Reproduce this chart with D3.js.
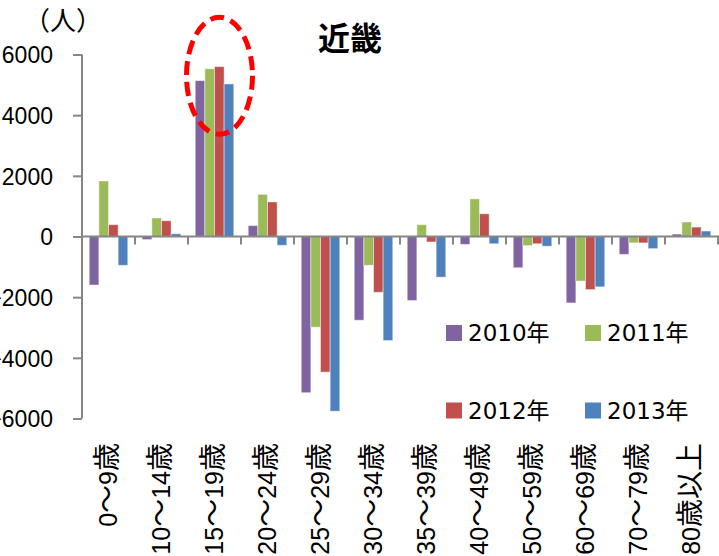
<!DOCTYPE html>
<html>
<head>
<meta charset="utf-8">
<script src="https://d3js.org/d3.v7.min.js"></script>
<style>
  body { margin: 0; background: #fff; }
  svg { display: block; }
  text { font-family: "Liberation Sans", "Noto Sans CJK JP", sans-serif; fill: #000; }
</style>
</head>
<body>
<svg width="719" height="556"></svg>
<script>
const categories = ["0～9歳", "10～14歳", "15～19歳", "20～24歳", "25～29歳", "30～34歳",
  "35～39歳", "40～49歳", "50～59歳", "60～69歳", "70～79歳", "80歳以上"];
const years = ["2010年", "2011年", "2012年", "2013年"];
const values2010 = [-1600, -100, 5140, 360, -5150, -2760, -2110, -260, -1030, -2190, -590, 80];
const values2011 = [1830, 610, 5530, 1390, -2990, -950, 390, 1240, -300, -1470, -210, 480];
const values2012 = [390, 520, 5600, 1140, -4470, -1840, -180, 750, -240, -1750, -210, 310];
const values2013 = [-950, 90, 5030, -290, -5760, -3430, -1340, -240, -320, -1660, -400, 180];
const yTicks = [-6000, -4000, -2000, 0, 2000, 4000, 6000];
const colors = ["#8064A2", "#9BBB59", "#C0504D", "#4F81BD"];

const series = [values2010, values2011, values2012, values2013];

const svg = d3.select('svg');

const x = d3.scaleBand().domain(categories).range([82, 718]).padding(0);
const bw = x.bandwidth() / 5.5;
const xs = d3.scaleBand().domain(years).range([bw * 0.75, x.bandwidth() - bw * 0.75]).padding(0);
const y = d3.scaleLinear().domain([-6000, 6000]).range([418.5, 54.5]);

// bars
const groups = svg.append('g').selectAll('g').data(categories)
  .enter().append('g')
  .attr('transform', d => `translate(${x(d)},0)`);

groups.selectAll('rect')
  .data((d, i) => years.map((yr, s) => ({ yr: yr, s: s, v: series[s][i] })))
  .enter().append('rect')
  .attr('x', d => xs(d.yr))
  .attr('width', xs.bandwidth())
  .attr('y', d => y(Math.max(0, d.v)))
  .attr('height', d => Math.abs(y(d.v) - y(0)))
  .attr('fill', d => colors[d.s])
  .attr('stroke', 'rgba(255,255,255,0.45)')
  .attr('stroke-width', 1);

// y axis
const yAxis = svg.append('g').attr('transform', 'translate(82,0)')
  .call(d3.axisLeft(y).tickValues(yTicks).tickSize(9).tickFormat(d3.format('d')));
yAxis.select('.domain').attr('stroke', '#868686').attr('stroke-width', 2).attr('d', `M0,${y(-6000)}V${y(6000)}`);
yAxis.selectAll('.tick line').attr('stroke', '#868686').attr('stroke-width', 2);
yAxis.selectAll('.tick text').attr('font-size', 23).attr('x', -29).attr('dy', '0.36em')
  .style('font-family', '"Liberation Sans", sans-serif');

// x axis at zero
svg.append('line')
  .attr('x1', 82).attr('x2', 719)
  .attr('y1', y(0)).attr('y2', y(0))
  .attr('stroke', '#868686').attr('stroke-width', 2);

svg.append('g').selectAll('line').data(categories)
  .enter().append('line')
  .attr('x1', d => x(d) + x.bandwidth()).attr('x2', d => x(d) + x.bandwidth())
  .attr('y1', y(0)).attr('y2', y(0) + 8)
  .attr('stroke', '#868686').attr('stroke-width', 2);

// category labels (digits and kanji in separate runs, kanji a bit larger)
const xLabels = svg.append('g').selectAll('text').data(categories)
  .enter().append('text')
  .attr('transform', d => `translate(${x(d) + x.bandwidth() / 2},443) rotate(-90)`)
  .attr('text-anchor', 'end')
  .attr('dy', '0.33em')
  .attr('font-size', 25);

xLabels.selectAll('tspan')
  .data(d => d.split(/([0-9]+)/).filter(s => s.length))
  .enter().append('tspan')
  .attr('font-size', s => /[0-9]/.test(s) ? 25 : 28)
  .text(s => s);

// unit and title
svg.append('text').attr('x', 24).attr('y', 30).attr('font-size', 26)
  .style('font-family', '"Noto Sans CJK JP", sans-serif')
  .text('（人）');
svg.append('text').attr('x', 350).attr('y', 50).attr('text-anchor', 'middle')
  .attr('font-size', 32).attr('font-weight', 'bold')
  .style('font-family', '"Noto Sans CJK JP", sans-serif')
  .text('近畿');

// legend
const legendPos = [[446, 325], [585, 325], [446, 402.5], [585, 402.5]];
const legend = svg.append('g').selectAll('g').data(years)
  .enter().append('g')
  .attr('transform', (d, i) => `translate(${legendPos[i][0]},${legendPos[i][1]})`);
legend.append('rect').attr('width', 16).attr('height', 16).attr('fill', (d, i) => colors[i]);
legend.append('text').attr('x', 22).attr('y', 16).attr('font-size', 23)
  .style('font-family', '"DejaVu Sans", "Noto Sans CJK JP", sans-serif')
  .text(d => d);

// red dashed ellipse around 15～19歳
svg.append('ellipse')
  .attr('cx', x("15～19歳") + x.bandwidth() / 2 + 5)
  .attr('cy', y(5300))
  .attr('rx', 33).attr('ry', 58.5)
  .attr('fill', 'none')
  .attr('stroke', '#FF0000')
  .attr('stroke-width', 5)
  .attr('stroke-dasharray', '14,7');
</script>
</body>
</html>
